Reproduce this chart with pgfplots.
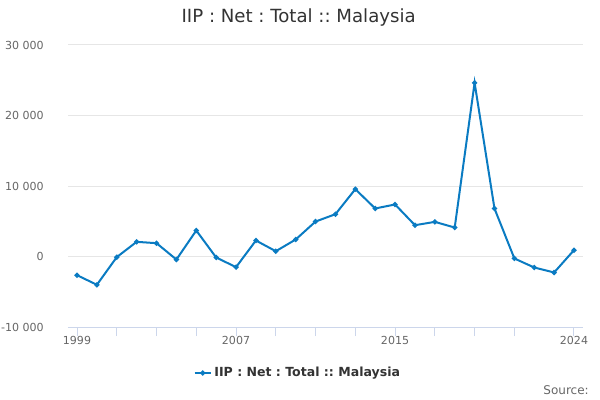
\documentclass[border=0pt]{standalone}
\usepackage{fontspec}
\setmainfont{DejaVu Sans}
\usepackage{pgfplots}
\pgfplotsset{compat=1.18}
\definecolor{linec}{HTML}{0A7BC2}
\definecolor{gridc}{HTML}{E6E6E6}
\definecolor{axisc}{HTML}{CCD6EB}
\definecolor{labc}{HTML}{666666}
\definecolor{titc}{HTML}{333333}
\frenchspacing
\begin{document}
\begin{tikzpicture}
\path[use as bounding box] (0,0) rectangle (450pt,300pt);
\node[text=titc, font=\fontsize{13.6pt}{15pt}\selectfont] at (224pt,286.5pt) {IIP : Net : Total :: Malaysia};
\node[text=labc, font=\fontsize{9pt}{11pt}\selectfont, anchor=east, inner sep=0pt] at (441.75pt,7.5pt) {Source:};
\begin{axis}[
  at={(51pt,54.75pt)}, anchor=south west,
  scale only axis, width=386.25pt, height=211.5pt,
  xmin=1998.547, xmax=2024.453,
  ymin=-10000, ymax=30000,
  axis x line=bottom, axis y line=left,
  x axis line style={-, draw=axisc},
  y axis line style={draw=none},
  xtick={1999,2001,2003,2005,2007,2009,2011,2013,2015,2017,2019,2021,2024},
  xticklabels={1999,{},{},{},2007,{},{},{},2015,{},{},{},2024},
  ytick={-10000,0,10000,20000,30000},
  scaled y ticks=false,
  tick align=outside,
  major tick length=6.75pt,
  x tick style={draw=axisc, line width=0.75pt},
  y tick style={draw=none},
  ymajorgrids, grid style={gridc, line width=0.75pt},
  /pgf/number format/assume math mode=true,
  /pgf/number format/1000 sep={\ },
  tick label style={text=labc, font=\fontsize{8.3pt}{10pt}\selectfont},
  yticklabel style={inner sep=0pt, anchor=east, xshift=-11.25pt},
  xticklabel style={inner sep=0pt, anchor=north},
  legend style={at={(0.447,-0.163)}, anchor=center, draw=none,
    font=\fontsize{9.4pt}{11pt}\selectfont\bfseries, text=titc},
  legend cell align=left,
  legend image code/.code={
    \draw[mark repeat=2, mark phase=2, #1] plot coordinates {(0pt,0pt) (6pt,0pt) (12pt,0pt)};
  },
]
\addplot[color=linec, line width=1.5pt, mark=*, mark size=1.1pt] coordinates {
(1999,-2650) (2000,-4010) (2001,-90) (2002,2080) (2003,1890) (2004,-430)
(2005,3690) (2006,-140) (2007,-1510) (2008,2270) (2009,750) (2010,2410)
(2011,4960) (2012,6000) (2013,9550) (2014,6810) (2015,7380) (2016,4440)
(2017,4910) (2018,4110) (2019,24640) (2020,6810) (2021,-280) (2022,-1560)
(2023,-2270) (2024,900)
};
\addlegendentry{IIP : Net : Total :: Malaysia}
\end{axis}
\end{tikzpicture}
\end{document}
